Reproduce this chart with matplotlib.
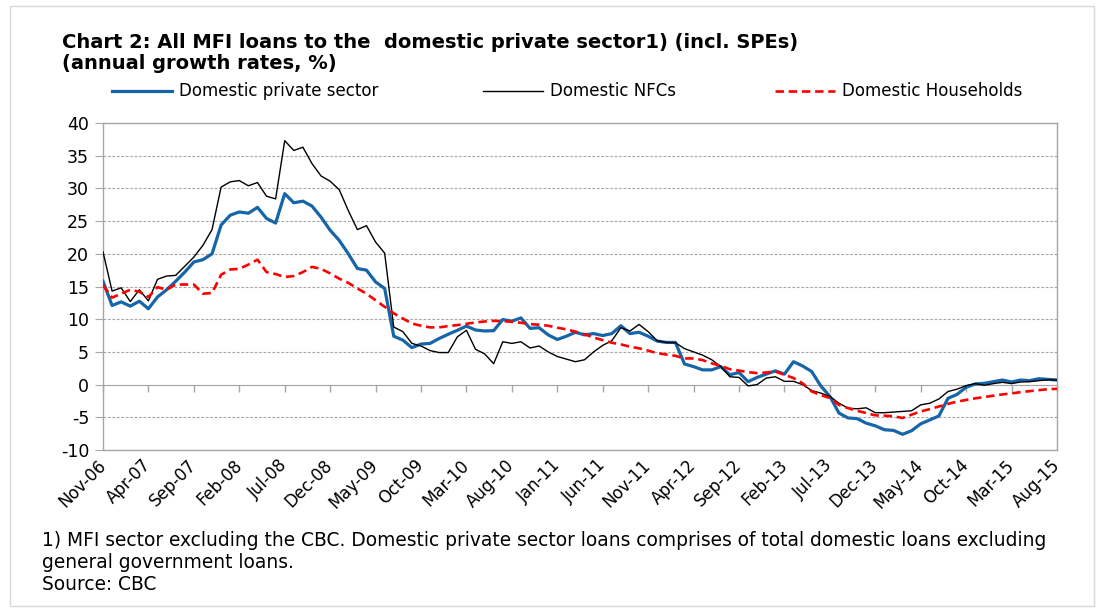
import numpy as np
import pandas as pd
import matplotlib
matplotlib.use("Agg")
import matplotlib.pyplot as plt
from matplotlib.patches import Rectangle
from matplotlib.lines import Line2D

plt.rcParams["axes.unicode_minus"] = False

# monthly categories Nov-06 .. Aug-15
months = pd.date_range("2006-11-01", "2015-08-01", freq="MS")
tick_labels = ["Nov-06", "Apr-07", "Sep-07", "Feb-08", "Jul-08", "Dec-08", "May-09",
               "Oct-09", "Mar-10", "Aug-10", "Jan-11", "Jun-11", "Nov-11", "Apr-12",
               "Sep-12", "Feb-13", "Jul-13", "Dec-13", "May-14", "Oct-14", "Mar-15",
               "Aug-15"]

private_sector = [15.8, 12.1, 12.65, 12.0, 12.75, 11.6, 13.4, 14.5, 15.8, 17.2,
                  18.75, 19.1, 20.0, 24.4, 25.9, 26.4, 26.2, 27.1, 25.4, 24.7,
                  29.2, 27.8, 28.05, 27.3, 25.6, 23.6, 22.05, 20.0, 17.75, 17.5,
                  15.7, 14.7, 7.4, 6.8, 5.65, 6.2, 6.3, 7.05, 7.7, 8.3,
                  8.95, 8.35, 8.2, 8.25, 9.95, 9.7, 10.2, 8.6, 8.7, 7.6,
                  6.9, 7.4, 8.0, 7.6, 7.8, 7.5, 7.8, 9.0, 7.8, 8.0,
                  7.4, 6.65, 6.45, 6.45, 3.15, 2.75, 2.25, 2.25, 2.75, 1.5,
                  1.85, 0.45, 1.1, 1.6, 2.1, 1.6, 3.5, 2.85, 2.0, -0.2,
                  -1.8, -4.35, -5.1, -5.2, -5.9, -6.3, -6.9, -7.0, -7.6, -7.05,
                  -6.0, -5.4, -4.8, -2.1, -1.5, -0.4, 0.1, 0.2, 0.45, 0.7,
                  0.4, 0.7, 0.6, 0.9, 0.8, 0.7]

nfcs = [20.3, 14.3, 14.8, 12.7, 14.5, 12.8, 16.1, 16.6, 16.7, 18.1,
        19.5, 21.3, 23.7, 30.2, 31.0, 31.2, 30.4, 30.9, 28.8, 28.4,
        37.3, 35.8, 36.3, 33.8, 31.9, 31.1, 29.8, 26.6, 23.7, 24.3,
        21.8, 20.1, 8.8, 8.1, 6.3, 5.9, 5.2, 4.9, 4.9, 7.3,
        8.3, 5.4, 4.7, 3.2, 6.55, 6.3, 6.55, 5.6, 5.9, 5.0,
        4.3, 3.9, 3.5, 3.8, 5.0, 6.0, 6.7, 8.7, 8.2, 9.2,
        8.1, 6.7, 6.45, 6.4, 5.5, 5.0, 4.5, 3.8, 2.75, 1.2,
        1.1, -0.2, 0.0, 1.0, 1.2, 0.5, 0.5, 0.0, -0.9, -1.3,
        -1.8, -2.85, -3.6, -3.7, -3.55, -4.3, -4.3, -4.2, -4.1, -4.0,
        -3.1, -2.85, -2.2, -1.06, -0.7, -0.15, 0.15, -0.1, 0.15, 0.35,
        0.15, 0.4, 0.45, 0.6, 0.75, 0.7]

households = [15.2, 13.3, 13.9, 14.5, 14.2, 13.4, 14.9, 14.5, 15.3, 15.3,
              15.3, 13.9, 14.0, 16.8, 17.6, 17.7, 18.35, 19.1, 17.2, 16.9,
              16.45, 16.6, 17.2, 18.0, 17.7, 17.0, 16.2, 15.55, 14.7, 13.9,
              12.9, 11.9, 10.9, 10.1, 9.35, 9.0, 8.75, 8.75, 8.95, 9.1,
              9.3, 9.5, 9.65, 9.75, 9.7, 9.6, 9.45, 9.25, 9.15, 9.0,
              8.7, 8.45, 8.1, 7.7, 7.2, 6.8, 6.4, 6.15, 5.8, 5.55,
              5.2, 4.8, 4.6, 4.4, 4.0, 4.0, 3.75, 3.25, 2.85, 2.35,
              2.15, 1.9, 1.75, 1.85, 2.0, 1.5, 1.0, 0.2, -1.05, -1.6,
              -2.05, -3.1, -3.6, -4.0, -4.35, -4.7, -4.75, -4.85, -5.1, -4.6,
              -4.1, -3.75, -3.35, -2.95, -2.6, -2.35, -2.1, -1.9, -1.7, -1.5,
              -1.35, -1.15, -1.0, -0.85, -0.7, -0.65]

x = np.arange(len(months))
grey = "#a6a6a6"
W, H = 1105, 610

fig = plt.figure(figsize=(W / 100, H / 100), dpi=100)
ax = fig.add_axes([103 / W, 1 - 450 / H, 954 / W, 327 / H])

series = [
    ("Domestic private sector", private_sector, dict(color="#1565a8", lw=2.3, zorder=3)),
    ("Domestic NFCs", nfcs, dict(color="black", lw=1.0, zorder=4)),
    ("Domestic Households", households, dict(color="#ff0000", lw=1.9, dashes=(3.2, 1.8), zorder=5)),
]
for name, vals, style in series:
    ax.plot(x, vals, label=name, **style)

ax.set_xlim(0, len(months) - 1)
ax.set_ylim(-10, 40)
ax.set_yticks(np.arange(-10, 41, 5))
ax.yaxis.grid(True, color=grey, linestyle=(0, (2.5, 1.5)), lw=0.8)
ax.set_axisbelow(True)

ax.set_xticks(x[::5])
ax.set_xticklabels(tick_labels, rotation=45, ha="right", va="center",
                   rotation_mode="anchor", fontsize=12)
ax.tick_params(axis="x", length=0, pad=9)
ax.tick_params(axis="y", direction="out", length=6, color=grey, labelsize=12.5, pad=4)

for side in ["top", "right", "bottom", "left"]:
    ax.spines[side].set_color(grey)
    ax.spines[side].set_linewidth(1.0)

# x axis line at zero with tick marks
zero_axis = ax.secondary_xaxis(0.2)
zero_axis.set_xticks(x[::5])
zero_axis.set_xticklabels([])
zero_axis.tick_params(direction="out", length=5, color=grey, width=1.0)
zero_axis.spines["bottom"].set_color(grey)

# legend row above the plot
legend_x = [112, 483, 775]
for (name, vals, style), lx in zip(series, legend_x):
    st = {k: v for k, v in style.items() if k != "zorder"}
    fig.add_artist(Line2D([lx / W, (lx + 60) / W], [1 - 91 / H] * 2,
                          transform=fig.transFigure, **st))
    fig.text((lx + 67) / W, 1 - 91 / H, name, fontsize=12, va="center")

fig.text(62 / W, 1 - 48 / H,
         "Chart 2: All MFI loans to the  domestic private sector1) (incl. SPEs)",
         weight="bold", fontsize=14, va="baseline")
fig.text(62 / W, 1 - 69 / H, "(annual growth rates, %)",
         weight="bold", fontsize=14, va="baseline")

fig.text(42 / W, 1 - 531 / H,
         "1) MFI sector excluding the CBC. Domestic private sector loans comprises of total domestic loans excluding\n"
         "general government loans.\nSource: CBC",
         fontsize=13.4, va="top", linespacing=1.2)

fig.add_artist(Rectangle((10 / W, 4 / H), 1084 / W, 600 / H,
                         transform=fig.transFigure, fill=False, ec="#d9d9d9", lw=1.0))

fig.savefig("out.png", dpi=100)
